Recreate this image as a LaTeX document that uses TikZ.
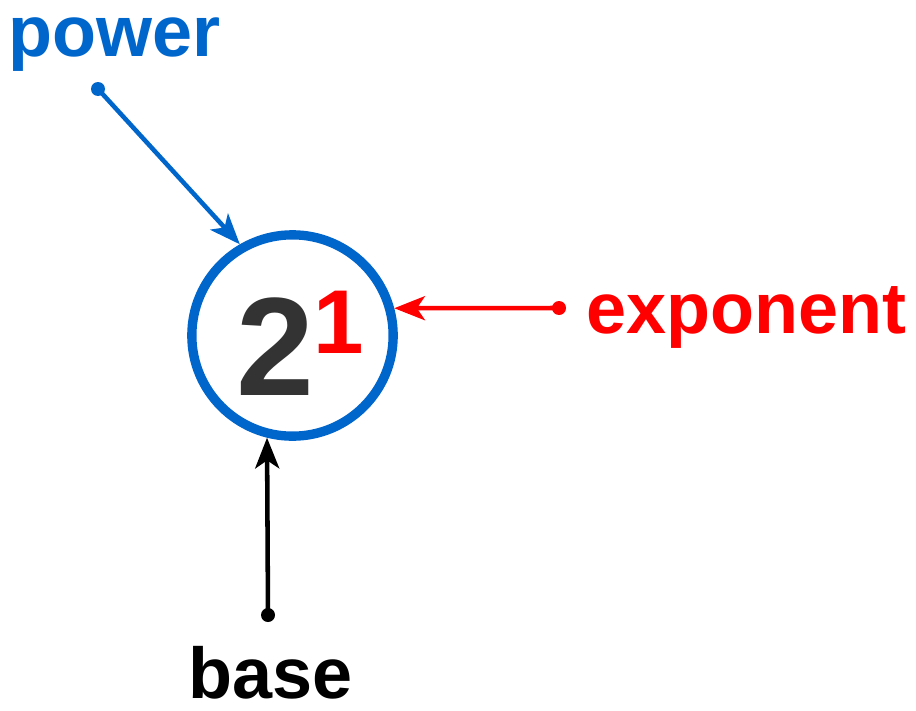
\documentclass[tikz,border=0pt]{standalone}
\usepackage{fontspec}
\setmainfont{Liberation Sans}
\usetikzlibrary{arrows.meta}
\definecolor{pblue}{RGB}{0,102,204}
\definecolor{ered}{RGB}{255,0,0}
\definecolor{dgrey}{RGB}{51,51,51}
\begin{document}
\begin{tikzpicture}[x=0.75pt,y=-0.75pt,
  lbl/.style={font=\fontsize{54}{54}\selectfont\bfseries, inner sep=0pt, anchor=base west},
  dotn/.style={circle, fill, inner sep=0pt, minimum size=10.5pt},
  conn/.style={line width=3.4pt, -{Stealth[length=23pt, width=18pt, inset=6pt]}}]
\useasboundingbox (0,0) rectangle (916,710);
% central circle
\node[circle, draw=pblue, line width=7pt, minimum size=151pt, inner sep=0pt] (circ) at (292.5,335.5) {};
\node[font=\fontsize{105}{105}\selectfont\bfseries, text=dgrey, inner sep=0pt, anchor=base west] (n2) at (236,395) {2};
\node[font=\fontsize{68}{68}\selectfont\bfseries, text=ered, inner sep=0pt, anchor=base west] (n1) at (313,353) {1};
% labels
\node[lbl, text=pblue] (power) at (8,57) {power};
\node[lbl, text=ered] (exponent) at (586,333) {exponent};
\node[lbl, text=black] (base) at (188,698) {base};
% dots
\node[dotn, pblue] (pd) at (98,89) {};
\node[dotn, ered] (ed) at (559,308) {};
\node[dotn, black] (bd) at (268,615) {};
% connectors
\draw[conn, pblue] (pd.center) -- (circ.120);
\draw[conn, ered] (ed.center) -- (circ.15);
\draw[conn, black] (bd.center) -- (circ.256);
\end{tikzpicture}
\end{document}
